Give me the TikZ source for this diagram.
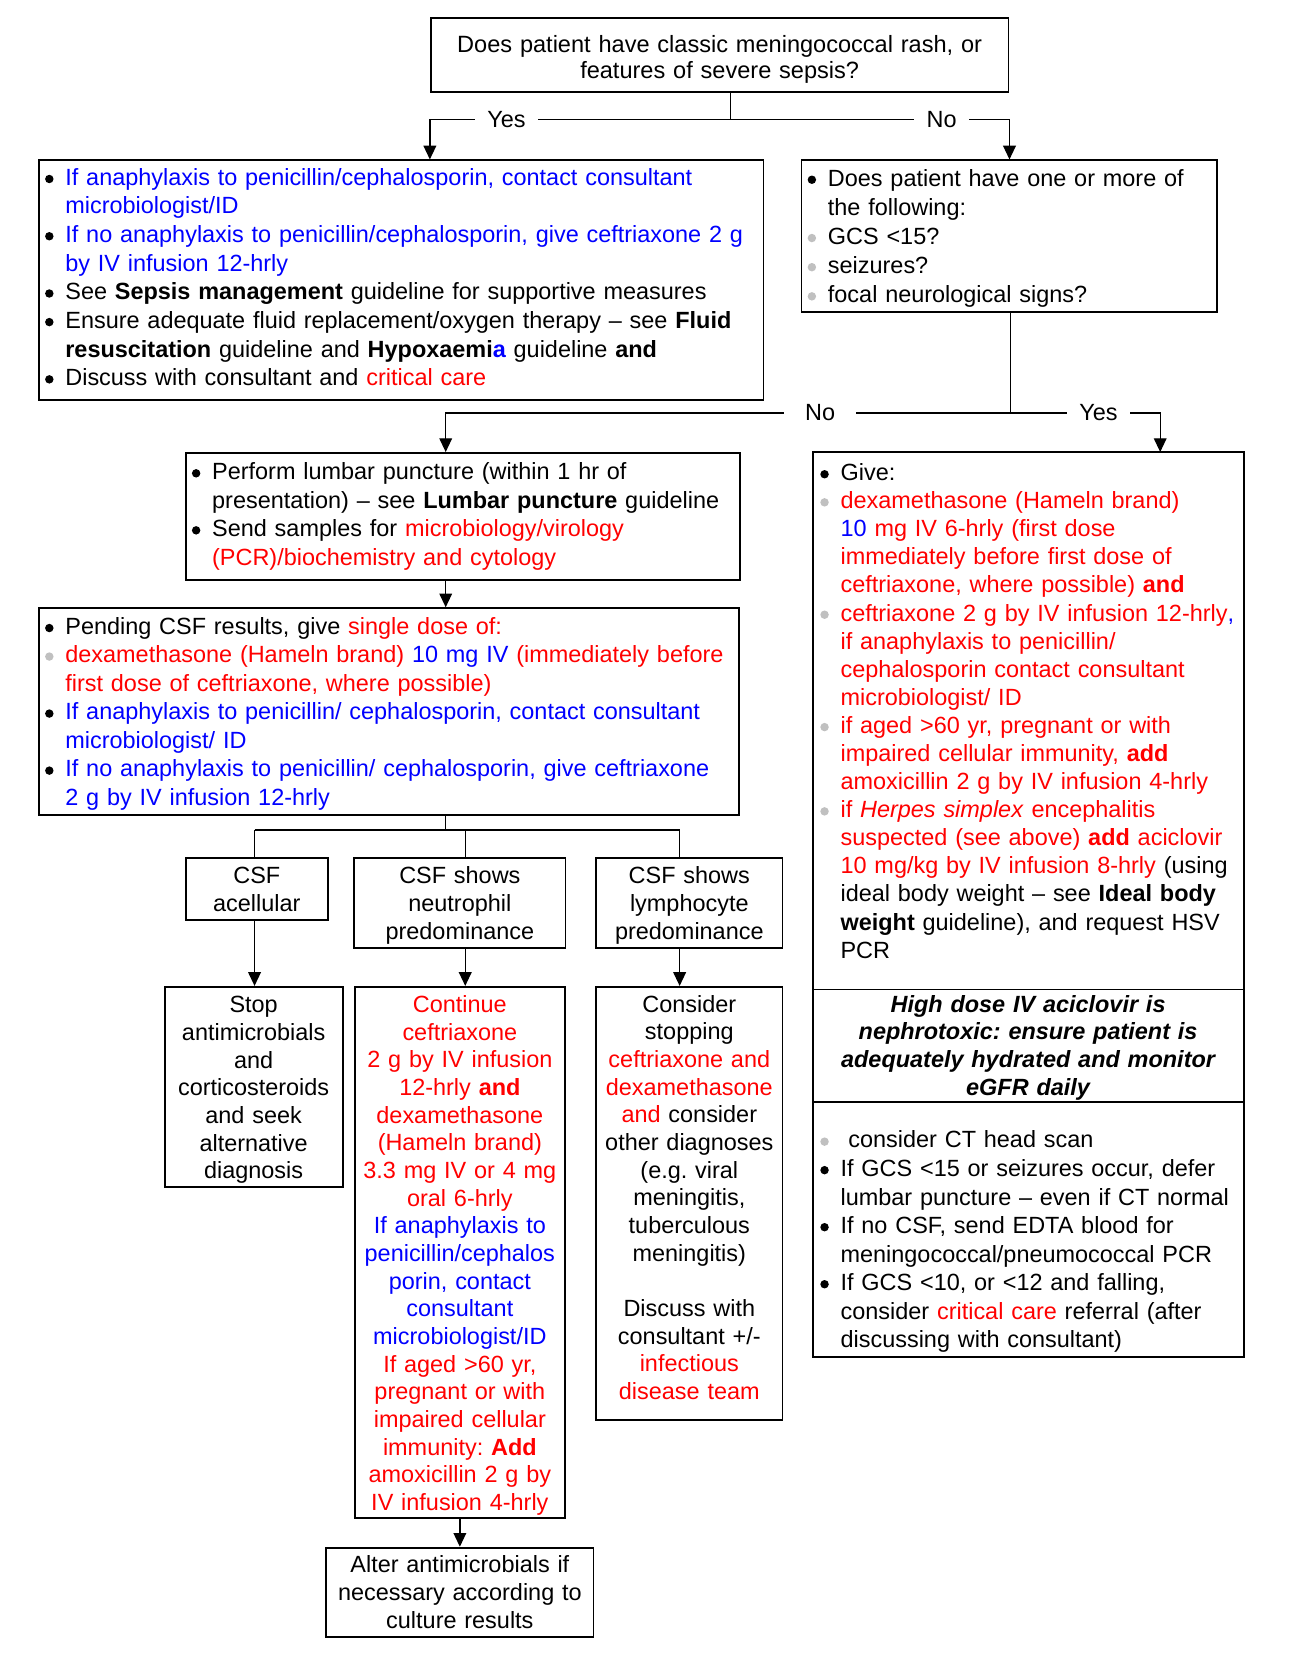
\documentclass[tikz,border=0pt]{standalone}
\usepackage{fontspec}
\setmainfont{Liberation Sans}
\usetikzlibrary{arrows.meta}

\definecolor{txtblue}{RGB}{0,0,255}
\definecolor{txtred}{RGB}{255,0,0}
\definecolor{dotgray}{RGB}{192,192,192}

% round list dot and bullet lines with hanging indent
\newcommand{\bdot}[1]{\tikz[baseline=0pt]\fill[#1] (2pt,3pt) circle[radius=2pt];}
\newcommand{\bstart}[1][black]{\hangindent=10.5pt\hangafter=1\makebox[10.5pt][l]{\hspace*{0.9pt}\bdot{#1}}\ignorespaces}
\newcommand{\bpoint}[1][black]{\par\noindent\bstart[#1]}
\newcommand{\redtxt}[1]{\textcolor{txtred}{#1}}
\newcommand{\bluetxt}[1]{\textcolor{txtblue}{#1}}
\frenchspacing

\begin{document}
\begin{tikzpicture}[x=0.5pt,y=-0.5pt,
    every node/.style={font=\fontsize{11.1}{13.4}\selectfont},
    box/.style={draw, line width=0.9pt, anchor=north west, inner xsep=2pt, inner ysep=2pt, align=left},
    cbox/.style={box, align=center, inner xsep=1pt},
    lbl/.style={fill=white, inner xsep=6pt, inner ysep=1pt},
    link/.style={line width=0.65pt},
    arr/.style={link, -{Triangle[width=6pt,length=6.5pt]}}]
    \useasboundingbox (0,0) rectangle (1238,1567);

    % ---- first question -----------------------------
    \node[cbox, inner xsep=3pt, text width=267.5pt, minimum height=34.75pt,
          font=\fontsize{11.15}{12.6}\selectfont] (q1) at (407,16.5)
      {Does patient have classic meningococcal rash, or\\ features of severe sepsis?\par\kern-4pt};

    % ---- yes: sepsis branch -------------------------
    \node[box, text width=339pt, minimum height=113.5pt,
          font=\fontsize{11.1}{13.55}\selectfont] (A) at (36,151) {%
      \bstart \bluetxt{If anaphylaxis to penicillin/cephalosporin, contact consultant\newline microbiologist/ID}
      \bpoint \bluetxt{If no anaphylaxis to penicillin/cephalosporin, give ceftriaxone 2 g\newline by IV infusion 12-hrly}
      \bpoint See \textbf{Sepsis management} guideline for supportive measures
      \bpoint Ensure adequate fluid replacement/oxygen therapy – see \textbf{Fluid}\newline \textbf{resuscitation} guideline and \textbf{Hypoxaemi\bluetxt{a}} guideline \textbf{and}
      \bpoint Discuss with consultant and \redtxt{critical care}\par\kern3pt};

    % ---- no: second question ------------------------
    \node[box, text width=192.5pt, minimum height=71.75pt,
          font=\fontsize{11.1}{13.8}\selectfont] (B) at (758,151) {%
      \bstart Does patient have one or more of\newline the following:
      \bpoint[dotgray] GCS <15?
      \bpoint[dotgray] seizures?
      \bpoint[dotgray] focal neurological signs?\par\kern-2pt};

    % ---- lumbar puncture ----------------------------
    \node[box, text width=258.5pt, minimum height=60pt,
          font=\fontsize{11.1}{13.5}\selectfont] (C) at (175,428) {%
      \bstart Perform lumbar puncture (within 1 hr of\newline presentation) – see \textbf{Lumbar puncture} guideline
      \bpoint Send samples for \redtxt{microbiology/virology\newline (PCR)/biochemistry and cytology}\par};

    \node[box, text width=327.25pt, minimum height=98pt,
          font=\fontsize{11.1}{13.5}\selectfont] (E) at (36,575) {%
      \bstart Pending CSF results, give \redtxt{single dose of:}
      \bpoint[dotgray] \redtxt{dexamethasone (Hameln brand)} \bluetxt{10 mg IV} \redtxt{(immediately before\newline first dose of ceftriaxone, where possible)}
      \bpoint \bluetxt{If anaphylaxis to penicillin/ cephalosporin, contact consultant\newline microbiologist/ ID}
      \bpoint \bluetxt{If no anaphylaxis to penicillin/ cephalosporin, give ceftriaxone\newline 2 g by IV infusion 12-hrly}\par\kern-2pt};

    % ---- yes: treatment box (three parts) -----------
    \node[box, draw=none, text width=199pt, minimum height=254.3pt,
          font=\fontsize{11.1}{13.3}\selectfont] (D1) at (770,428) {%
      \bstart Give:
      \bpoint[dotgray] \redtxt{dexamethasone (Hameln brand)\newline \bluetxt{10} mg IV 6-hrly (first dose\newline immediately before first dose of\newline ceftriaxone, where possible) \textbf{and}}
      \bpoint[dotgray] \redtxt{ceftriaxone 2 g by IV infusion 12-hrly}\bluetxt{,}\newline \redtxt{if anaphylaxis to penicillin/\newline cephalosporin contact consultant\newline microbiologist/ ID}
      \bpoint[dotgray] \redtxt{if aged >60 yr, pregnant or with\newline impaired cellular immunity, \textbf{add}\newline amoxicillin 2 g by IV infusion 4-hrly}
      \bpoint[dotgray] \redtxt{if \textit{Herpes simplex} encephalitis\newline suspected (see above) \textbf{add} aciclovir\newline 10 mg/kg by IV infusion 8-hrly} (using\newline ideal body weight – see \textbf{Ideal body}\newline \textbf{weight} guideline), and request HSV\newline PCR\par\kern10pt};
    \node[anchor=north west, text width=199pt, align=center, inner xsep=2pt, inner ysep=0pt,
          minimum height=53pt, font=\fontsize{11.1}{13.1}\selectfont\bfseries\itshape] (D2) at (770,936.6)
      {High dose IV aciclovir is\\ nephrotoxic: ensure patient is\\ adequately hydrated and monitor\\ eGFR daily\par\kern-2pt};
    \node[box, draw=none, text width=199pt, minimum height=120.2pt,
          font=\fontsize{11.1}{13.5}\selectfont] (D3) at (770,1042.6) {%
      \bstart[dotgray]\ consider CT head scan
      \bpoint If GCS <15 or seizures occur, defer\newline lumbar puncture – even if CT normal
      \bpoint If no CSF, send EDTA blood for\newline meningococcal/pneumococcal PCR
      \bpoint If GCS <10, or <12 and falling,\newline consider \redtxt{critical care} referral (after\newline discussing with consultant)\par\kern-12pt};
    \draw[line width=0.9pt] (D1.north west) rectangle (D3.south east);
    \draw[line width=0.5pt] (D2.north west) -- (D2.north east) (D2.south west) -- (D2.south east);

    % ---- CSF findings -------------------------------
    \node[cbox, text width=65.25pt, minimum height=29.5pt,
          font=\fontsize{11.1}{13.5}\selectfont] (F1) at (175,811.5) {CSF\\ acellular};
    \node[cbox, text width=98pt, minimum height=42.75pt,
          font=\fontsize{11.1}{13.25}\selectfont] (F2) at (334.5,811.5) {CSF shows\\ neutrophil\\ predominance\par\kern-2pt};
    \node[cbox, text width=86.25pt, minimum height=42.75pt,
          font=\fontsize{11.1}{13.25}\selectfont] (F3) at (563.5,811.5) {CSF shows\\ lymphocyte\\ predominance\par\kern-2pt};

    \node[cbox, text width=82.25pt, minimum height=94.75pt,
          font=\fontsize{11.1}{13.1}\selectfont] (G1) at (155,933.5)
      {Stop\\ antimicrobials\\ and\\ corticosteroids\\ and seek\\ alternative\\ diagnosis\par\kern-3pt};
    \node[cbox, text width=97.5pt, minimum height=251.25pt,
          font=\fontsize{11.1}{13.1}\selectfont] (G2) at (335,933.5)
      {\redtxt{Continue\\ ceftriaxone\\ 2 g by IV infusion\\ 12-hrly \textbf{and}\\ dexamethasone\\ (Hameln brand)\\ 3.3 mg IV or 4 mg\\ oral 6-hrly}\\
       \bluetxt{If anaphylaxis to\\ penicillin/cephalos\\ porin, contact\\ consultant\\ microbiologist/ID}\\
       \redtxt{If aged >60 yr,\\ pregnant or with\\ impaired cellular\\ immunity: \textbf{Add}\\ amoxicillin 2 g by\\ IV infusion 4-hrly}\par\kern-3pt};
    \node[cbox, text width=86.25pt, minimum height=205.25pt,
          font=\fontsize{11.1}{13.1}\selectfont] (G3) at (563.5,933.5)
      {Consider\\ stopping\\ \redtxt{ceftriaxone and}\\ \redtxt{dexamethasone}\\ \redtxt{and} consider\\ other diagnoses\\ (e.g. viral\\ meningitis,\\ tuberculous\\ meningitis)\\[13.1pt]
       Discuss with\\ consultant +/-\\ \redtxt{infectious}\\ \redtxt{disease team}\par\kern6pt};

    \node[cbox, text width=124.5pt, minimum height=42.25pt,
          font=\fontsize{11.1}{13.25}\selectfont] (H) at (308,1464.5)
      {Alter antimicrobials if\\ necessary according to\\ culture results};

    % ---- junction points ----------------------------
    \coordinate (s1) at (691.5,113);
    \coordinate (s2) at (957,391);
    \coordinate (lpx) at (422,391);
    \coordinate (givex) at (1098.5,391);
    \coordinate (split) at (422,786);
    \coordinate (f1x) at (241,786);
    \coordinate (f2x) at (440.5,786);
    \coordinate (f3x) at (643.5,786);

    % ---- connectors ---------------------------------
    \draw[link] (q1.south -| s1) -- (s1);
    \draw[arr] (s1) -- (s1 -| q1.west) -- (A.north -| q1.west);
    \draw[arr] (s1) -- (s1 -| q1.east) -- (B.north -| q1.east);

    \draw[link] (B.south -| s2) -- (s2);
    \draw[arr] (s2) -- (lpx) -- (C.north -| lpx);
    \draw[arr] (s2) -- (givex) -- (D1.north -| givex);

    \draw[arr] (C.south -| lpx) -- (E.north -| lpx);
    \draw[link] (E.south -| split) -- (split);
    \draw[link] (f1x) -- (f3x);
    \draw[link] (f1x) -- (F1.north -| f1x);
    \draw[link] (f2x) -- (F2.north -| f2x);
    \draw[link] (f3x) -- (F3.north -| f3x);

    \draw[arr] (F1.south -| f1x) -- (G1.north -| f1x);
    \draw[arr] (F2.south -| f2x) -- (G2.north -| f2x);
    \draw[arr] (F3.south -| f3x) -- (G3.north -| f3x);
    \draw[arr] (G2.south) -- (H.north);

    % ---- branch labels on the lines -----------------
    \node[lbl] (yes1) at (479.5,113) {Yes};
    \node[lbl] (no1) at (891.5,113) {No};
    \node[lbl, inner xsep=10pt] (no2) at (776.5,391) {No};
    \node[lbl] (yes2) at (1040,391) {Yes};
\end{tikzpicture}
\end{document}
